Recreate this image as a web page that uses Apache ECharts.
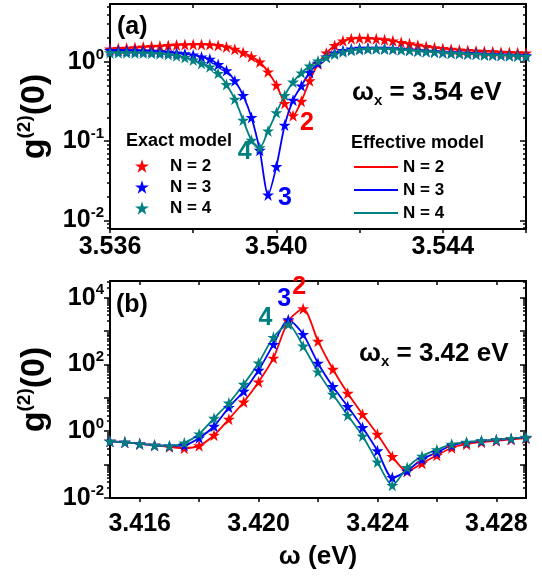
<!DOCTYPE html>
<html><head><meta charset="utf-8">
<script src="https://cdn.jsdelivr.net/npm/echarts@6/dist/echarts.min.js"></script>
<style>html,body{margin:0;padding:0;background:#fff}#c{width:542px;height:578px}</style>
</head><body><div id="c"></div>
<script>
// ---------- data: panel (a), omega_x = 3.54 eV ----------
const xA = [3.5360,3.5362,3.5364,3.5366,3.5368,3.5370,3.5372,3.5374,3.5376,3.5378,
 3.5380,3.5382,3.5384,3.5386,3.5388,3.5390,3.5392,3.5394,3.5396,3.5398,
 3.5400,3.5402,3.5404,3.5406,3.5408,3.5410,3.5412,3.5414,3.5416,3.5418,
 3.5420,3.5422,3.5424,3.5426,3.5428,3.5430,3.5432,3.5434,3.5436,3.5438,
 3.5440,3.5442,3.5444,3.5446,3.5448,3.5450,3.5452,3.5454,3.5456,3.5458,3.5460];
const aN2 = [1.46,1.48,1.50,1.52,1.55,1.57,1.59,1.62,1.64,1.66,
 1.67,1.67,1.66,1.62,1.55,1.45,1.32,1.17,1.00,0.75,
 0.51,0.30,0.21,0.32,0.58,0.95,1.30,1.62,1.85,1.97,
 2.00,1.99,1.96,1.91,1.85,1.77,1.70,1.63,1.57,1.52,
 1.48,1.45,1.42,1.40,1.38,1.36,1.35,1.33,1.32,1.31,1.30];
const aN3 = [1.40,1.40,1.39,1.39,1.38,1.37,1.35,1.33,1.30,1.27,
 1.23,1.16,1.09,0.93,0.78,0.58,0.38,0.20,0.077,0.021,
 0.048,0.16,0.33,0.50,0.74,0.97,1.16,1.30,1.40,1.46,
 1.49,1.50,1.50,1.49,1.47,1.45,1.42,1.39,1.37,1.35,
 1.33,1.31,1.30,1.28,1.27,1.25,1.24,1.23,1.22,1.21,1.20];
const aN4 = [1.31,1.31,1.31,1.30,1.30,1.29,1.27,1.24,1.20,1.14,
 1.06,0.96,0.87,0.72,0.52,0.34,0.185,0.103,0.083,0.135,
 0.23,0.38,0.56,0.73,0.89,1.03,1.15,1.26,1.34,1.40,
 1.44,1.46,1.47,1.46,1.45,1.43,1.40,1.37,1.35,1.33,
 1.31,1.29,1.28,1.26,1.25,1.23,1.22,1.21,1.20,1.19,1.18];
// ---------- data: panel (b), omega_x = 3.42 eV ----------
const xB = [3.4150,3.4155,3.4160,3.4165,3.4170,3.4175,3.4180,3.4185,3.4190,3.4195,
 3.4200,3.4205,3.4210,3.4215,3.4220,3.4225,3.4230,3.4235,3.4240,3.4245,
 3.4250,3.4255,3.4260,3.4265,3.4270,3.4275,3.4280,3.4285,3.4290];
const bN2 = [0.50,0.47,0.42,0.38,0.34,0.31,0.37,0.76,2.3,7.5,
 30,155,2000,4700,500,72,13.7,3.2,0.81,0.175,
 0.063,0.11,0.19,0.32,0.41,0.47,0.52,0.57,0.62];
const bN3 = [0.50,0.47,0.42,0.38,0.36,0.38,0.63,1.41,5.2,15.8,
 67,400,2200,800,109,21.8,5.5,1.29,0.26,0.041,
 0.065,0.145,0.23,0.38,0.46,0.51,0.55,0.60,0.65];
const bN4 = [0.50,0.47,0.42,0.38,0.36,0.45,0.83,2.45,7.0,25.6,
 111,650,1590,357,60,12.8,3.0,0.72,0.12,0.024,
 0.082,0.18,0.28,0.41,0.47,0.52,0.56,0.61,0.66];
// ---------- tick labels ----------
const xLabA = [3.536, 3.540, 3.544];
const xTickA = [3.536, 3.538, 3.540, 3.542, 3.544, 3.546];
const xLabB = [3.416, 3.420, 3.424, 3.428];
const xTickB = [3.416, 3.418, 3.420, 3.422, 3.424, 3.426, 3.428];
const yLabA = [0.01, 0.1, 1];
const yMajA = [0.01, 0.1, 1];
const yLabB = [0.01, 1, 100, 10000];
const yMajB = [0.01, 0.1, 1, 10, 100, 1000, 10000];
const names = ['N = 2', 'N = 3', 'N = 4'];

const RED = '#ff0000', BLUE = '#0000ff', TEAL = '#008080';
const COLORS = [RED, BLUE, TEAL];
const F = '"Liberation Sans", Arial, sans-serif';
const STAR = 'path://M50,0 L61.2,34.5 L97.6,34.5 L68.2,55.9 L79.4,90.5 L50,69.1 L20.6,90.5 L31.8,55.9 L2.4,34.5 L38.8,34.5 Z';

function minorsOf(lo, hi) {
  const out = [];
  for (let d = -3; d <= 5; d++) for (let m = 2; m <= 9; m++) {
    const v = m * Math.pow(10, d);
    if (v > lo && v < hi) out.push(v);
  }
  return out;
}
const black = {color: '#000', width: 2};
const tickStyle = {color: '#000', width: 1.5};

function xAxes(grid, min, max, labs, ticks, margin, name) {
  const base = {type: 'value', gridIndex: grid, min, max, splitLine: {show: false}};
  return [
    Object.assign({}, base, {position: 'bottom',
      axisLine: {show: true, onZero: false, lineStyle: black},
      axisTick: {show: true, customValues: ticks, length: 4, lineStyle: tickStyle},
      axisLabel: {show: true, customValues: labs, margin: margin, formatter: v => v.toFixed(3),
        fontSize: 25, fontWeight: 'bold', fontFamily: F, color: '#000'},
      name: name || '', nameLocation: 'middle', nameGap: 46,
      nameTextStyle: {fontSize: 26, fontWeight: 'bold', fontFamily: F, color: '#000'}}),
    Object.assign({}, base, {position: 'top',
      axisLine: {show: true, onZero: false, lineStyle: black},
      axisTick: {show: true, inside: true, customValues: ticks, length: 4, lineStyle: tickStyle},
      axisLabel: {show: false}})
  ];
}
function yAxes(grid, min, max, labs, majors) {
  const base = {type: 'log', logBase: 10, gridIndex: grid, min, max, splitLine: {show: false}};
  const minors = minorsOf(min, max);
  return [
    Object.assign({}, base, {position: 'left',
      axisLine: {show: true, onZero: false, lineStyle: black},
      axisTick: {show: true, customValues: majors, length: 6, lineStyle: tickStyle},
      axisLabel: {show: true, customValues: labs, margin: 6,
        formatter: v => '{b|10}{s|' + Math.round(Math.log10(v)) + '}',
        rich: {
          b: {fontSize: 25, fontWeight: 'bold', fontFamily: F, color: '#000', lineHeight: 30},
          s: {fontSize: 15, fontWeight: 'bold', fontFamily: F, color: '#000', lineHeight: 15, verticalAlign: 'top'}
        }},
      name: '{g|g}{s|(2)}{g|(0)}', nameLocation: 'middle', nameRotate: 90, nameGap: 50,
      nameTextStyle: {rich: {
        g: {fontSize: 34, fontWeight: 'bold', fontFamily: F, color: '#000', lineHeight: 40},
        s: {fontSize: 19, fontWeight: 'bold', fontFamily: F, color: '#000', lineHeight: 20, verticalAlign: 'top'}
      }}}),
    Object.assign({}, base, {position: 'left', axisLine: {show: false},
      axisTick: {show: true, customValues: minors, length: 3, lineStyle: tickStyle}, axisLabel: {show: false}}),
    Object.assign({}, base, {position: 'right',
      axisLine: {show: true, onZero: false, lineStyle: black},
      axisTick: {show: true, inside: true, customValues: majors, length: 6, lineStyle: tickStyle}, axisLabel: {show: false}}),
    Object.assign({}, base, {position: 'right', axisLine: {show: false},
      axisTick: {show: true, inside: true, customValues: minors, length: 3, lineStyle: tickStyle}, axisLabel: {show: false}})
  ];
}

function pts(xs, ys) { return xs.map((x, i) => [x, ys[i]]); }
function lbl(text, color, position, distance, offset) {
  return {show: true, formatter: text, position, distance, offset, color,
    fontSize: 25, fontWeight: 'bold', fontFamily: F, textBorderWidth: 0};
}

const series = [];
function addPanel(xs, sets, xi, yi, suffix, labels) {
  sets.forEach((ys, i) => {
    series.push({type: 'line', name: 'eff' + (i + 2) + suffix, xAxisIndex: xi, yAxisIndex: yi,
      data: pts(xs, ys), symbol: 'none', showSymbol: false, smooth: 0.25,
      lineStyle: {color: COLORS[i], width: 1.8}, itemStyle: {color: COLORS[i]}, z: 2});
  });
  sets.forEach((ys, i) => {
    const d = pts(xs, ys);
    const L = labels[i];
    d[L.idx] = {value: d[L.idx], label: lbl(String(i + 2), COLORS[i], L.pos, L.dist, L.off)};
    series.push({type: 'scatter', name: 'exact' + (i + 2) + suffix, xAxisIndex: xi, yAxisIndex: yi,
      data: d, symbol: STAR, symbolSize: 12, itemStyle: {color: COLORS[i], opacity: 1}, z: 3});
  });
}
addPanel(xA, [aN2, aN3, aN4], 0, 0, '', [
  {idx: 22, pos: 'right', dist: 1, off: [0, 7]},
  {idx: 19, pos: 'right', dist: 4, off: [0, 3]},
  {idx: 18, pos: 'left', dist: 2, off: [0, 4]}]);
addPanel(xB, [bN2, bN3, bN4], 2, 4, 'b', [
  {idx: 13, pos: 'top', dist: 3, off: [-4, 0]},
  {idx: 12, pos: 'top', dist: 2, off: [-4, 0]},
  {idx: 12, pos: 'left', dist: 10, off: [0, -6]}]);

const tStyle = (fs) => ({fontSize: fs, fontWeight: 'bold', fontFamily: F, color: '#000'});
const omegaRich = {
  w: {fontSize: 26, fontWeight: 'bold', fontFamily: F, color: '#000', lineHeight: 30},
  x: {fontSize: 15, fontWeight: 'bold', fontFamily: F, color: '#000', lineHeight: 15, verticalAlign: 'bottom'},
  t: {fontSize: 26, fontWeight: 'bold', fontFamily: F, color: '#000', lineHeight: 30}
};

const option = {
  backgroundColor: '#fff',
  animation: false,
  grid: [
    {left: 110, top: 4, right: 16, height: 225},
    {left: 110, top: 281, right: 16, height: 217}
  ],
  xAxis: [].concat(
    xAxes(0, 3.536, 3.546, xLabA, xTickA, 6),
    xAxes(1, 3.415, 3.429, xLabB, xTickB, 14, 'ω (eV)')),
  yAxis: [].concat(
    yAxes(0, 0.0078, 5.4, yLabA, yMajA),
    yAxes(1, 0.01, 31623, yLabB, yMajB)),
  title: [
    {text: '(a)', left: 112, top: 7, textStyle: Object.assign(tStyle(25), {lineHeight: 30})},
    {text: '(b)', left: 111, top: 285, textStyle: Object.assign(tStyle(25), {lineHeight: 30})},
    {text: 'Exact model', left: 121, top: 125, textStyle: Object.assign(tStyle(18), {lineHeight: 22})},
    {text: 'Effective model', left: 346, top: 127, textStyle: Object.assign(tStyle(18), {lineHeight: 22})},
    {text: '{w|ω}{x|x}{t| = 3.54 eV}', left: 347, top: 73, textStyle: {rich: omegaRich}},
    {text: '{w|ω}{x|x}{t| = 3.42 eV}', left: 354, top: 334, textStyle: {rich: omegaRich}}
  ],
  legend: [
    {orient: 'vertical', left: 130, top: 151, data: ['exact2', 'exact3', 'exact4'],
      icon: STAR, itemWidth: 14, itemHeight: 14, itemGap: 1,
      formatter: n => names[+n.slice(-1) - 2],
      textStyle: {fontSize: 17, fontWeight: 'bold', fontFamily: F, color: '#000', lineHeight: 20, padding: [0, 0, 0, 16]},
      selectedMode: false},
    {orient: 'vertical', left: 349, top: 152, data: ['eff2', 'eff3', 'eff4'],
      icon: 'rect', itemWidth: 44, itemHeight: 2, itemGap: 3,
      formatter: n => names[+n.slice(-1) - 2],
      textStyle: {fontSize: 17, fontWeight: 'bold', fontFamily: F, color: '#000', lineHeight: 20},
      selectedMode: false}
  ],
  series
};
const chart = echarts.init(document.getElementById('c'), null, {renderer: 'canvas'});
chart.setOption(option);
</script></body></html>
